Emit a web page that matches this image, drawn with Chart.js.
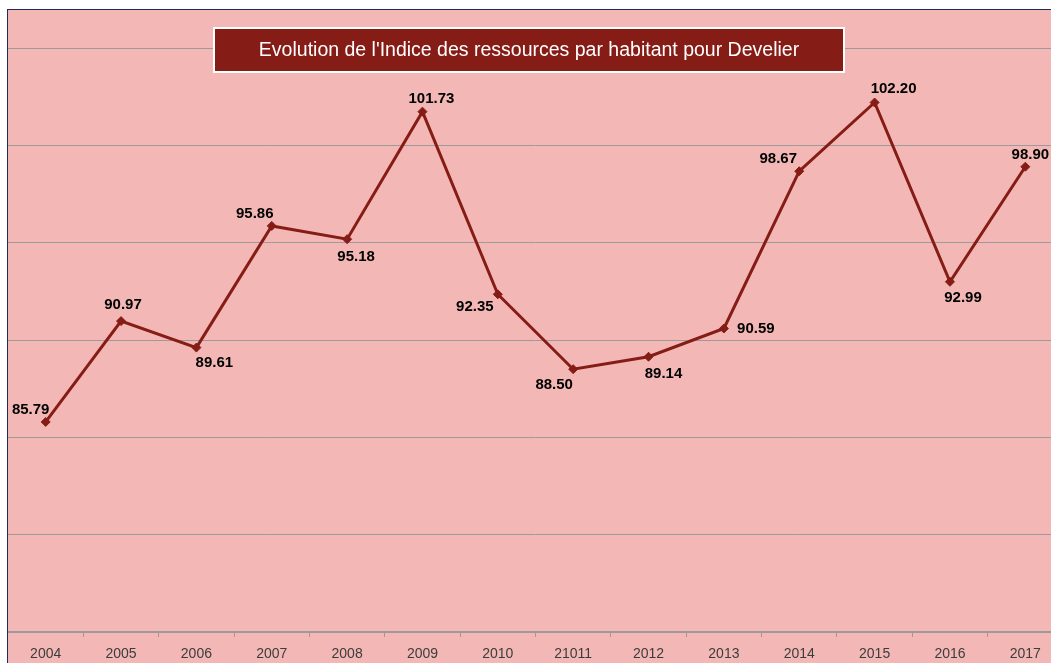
<!DOCTYPE html>
<html lang="fr">

<head>
  <meta charset="UTF-8">
  <title>Indice des ressources - Develier</title>
  <script src="https://cdn.jsdelivr.net/npm/chart.js@4.4.1/dist/chart.umd.min.js"></script>
  <style>
    html, body { margin: 0; padding: 0; background: #fff; overflow: hidden; width: 1051px; height: 663px; }
    #frame {
      position: absolute; left: 7px; top: 9px;
      width: 1060px; height: 660px;
      border-left: 1px solid #1f2a5e; border-top: 1px solid #1f2a5e;
      background: #f3b8b5;
    }
    #chart { position: absolute; left: 0; top: 0; }
  </style>
</head>

<body>
  <div id="frame">
    <canvas id="chart" width="1055" height="653"></canvas>
  </div>

  <script>
    const years = ['2004', '2005', '2006', '2007', '2008', '2009', '2010', '21011', '2012', '2013', '2014', '2015', '2016', '2017'];
    const indexValues = [85.79, 90.97, 89.61, 95.86, 95.18, 101.73, 92.35, 88.50, 89.14, 90.59, 98.67, 102.20, 92.99, 98.90];
    const titleText = "Evolution de l'Indice des ressources par habitant pour Develier";

    // where each value label sits relative to its point (px)
    const labelOffsets = [
      [-15, -12], [2, -16], [18, 15], [-17, -12], [9, 18], [9, -13], [-23, 13],
      [-19, 16], [15, 17], [32, 0], [-21, -12], [19, -14], [13, 16], [5, -12]
    ];

    const darkRed = '#861c16';
    const gridGray = '#9c9a9a';

    // value labels next to each point
    const valueLabels = {
      id: 'valueLabels',
      afterDatasetsDraw(chart) {
        const ctx = chart.ctx;
        const meta = chart.getDatasetMeta(0);
        ctx.save();
        ctx.font = 'bold 15px "Liberation Sans", Arial, sans-serif';
        ctx.fillStyle = '#000';
        ctx.textAlign = 'center';
        ctx.textBaseline = 'middle';
        meta.data.forEach((pt, i) => {
          const off = labelOffsets[i];
          ctx.fillText(indexValues[i].toFixed(2), pt.x + off[0], pt.y + off[1]);
        });
        ctx.restore();
      }
    };

    // title in a dark red box with white border
    const titleBox = {
      id: 'titleBox',
      afterDraw(chart) {
        const ctx = chart.ctx;
        const x = 205, y = 17, w = 632, h = 46;
        ctx.save();
        ctx.fillStyle = darkRed;
        ctx.fillRect(x, y, w, h);
        ctx.strokeStyle = '#fff';
        ctx.lineWidth = 2;
        ctx.strokeRect(x + 1, y + 1, w - 2, h - 2);
        let size = 21;
        ctx.font = size + 'px "Liberation Sans", Arial, sans-serif';
        while (ctx.measureText(titleText).width > 544 && size > 10) {
          size -= 0.5;
          ctx.font = size + 'px "Liberation Sans", Arial, sans-serif';
        }
        ctx.fillStyle = '#fff';
        ctx.textAlign = 'center';
        ctx.textBaseline = 'middle';
        ctx.fillText(titleText, x + w / 2, y + h / 2 + 1);
        ctx.restore();
      }
    };

    const ctx = document.getElementById('chart').getContext('2d');
    const chart = new Chart(ctx, {
      type: 'line',
      data: {
        labels: years,
        datasets: [{
          data: indexValues,
          borderColor: darkRed,
          backgroundColor: darkRed,
          borderWidth: 3,
          pointStyle: 'rectRot',
          pointRadius: 4.5,
          pointBorderWidth: 1,
          tension: 0
        }]
      },
      options: {
        responsive: false,
        animation: false,
        layout: { autoPadding: false, padding: { top: 38, left: 0, right: 0, bottom: 0 } },
        plugins: {
          legend: { display: false },
          title: { display: false },
          tooltip: { enabled: false }
        },
        scales: {
          x: {
            offset: true,
            grid: {
              offset: true,
              drawOnChartArea: false,
              drawTicks: true,
              tickLength: 5,
              color: gridGray
            },
            border: { display: true, color: gridGray, width: 1.5 },
            ticks: {
              padding: 9,
              color: '#3c3c3c',
              font: { family: '"Liberation Sans", Arial, sans-serif', size: 14 },
              maxRotation: 0,
              autoSkip: false
            },
            afterFit(scale) { scale.height = 31; }
          },
          y: {
            min: 75,
            max: 105,
            ticks: { display: false, stepSize: 5 },
            grid: { color: gridGray, lineWidth: 1, drawTicks: false },
            border: { display: false },
            afterFit(scale) { scale.width = 0; }
          }
        }
      },
      plugins: [valueLabels, titleBox]
    });
  </script>
</body>

</html>
